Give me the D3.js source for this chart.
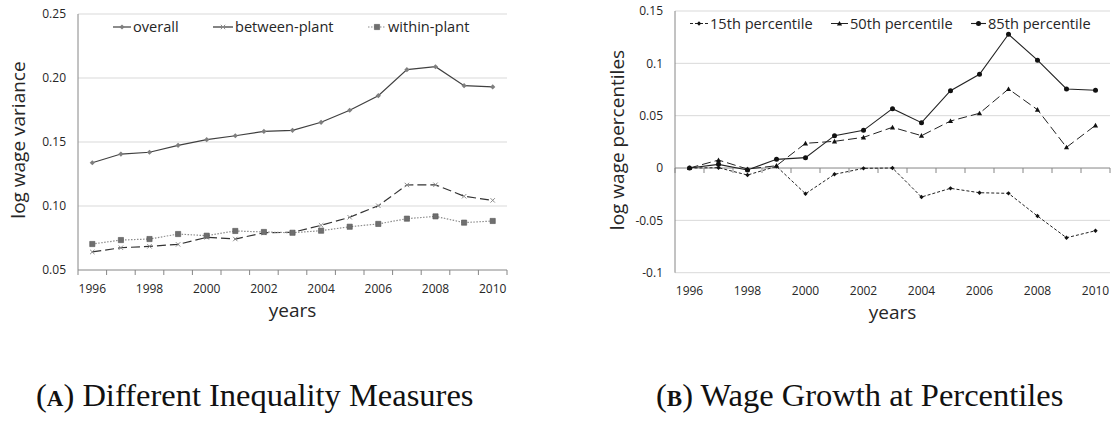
<!DOCTYPE html>
<html>
<head>
<meta charset="utf-8">
<script src="https://cdn.jsdelivr.net/npm/d3@7"></script>
<style>
  body { margin: 0; background: #fff; }
  svg { display: block; }
  .sans { font-family: "Open Sans", "DejaVu Sans", sans-serif; }
  .serif { font-family: "Liberation Serif", "DejaVu Serif", serif; }
</style>
</head>
<body>
<svg id="chart" width="1113" height="426"></svg>
<script>
// Survey years (one category per year)
const years = [1996, 1997, 1998, 1999, 2000, 2001, 2002, 2003, 2004, 2005, 2006, 2007, 2008, 2009, 2010];
const yearLabels = [1996, 1998, 2000, 2002, 2004, 2006, 2008, 2010];

// Panel A: variance of log wages and its decomposition
const overall      = [0.1338, 0.1406, 0.1420, 0.1474, 0.1518, 0.1549, 0.1583, 0.1591, 0.1654, 0.1748, 0.1862, 0.2065, 0.2088, 0.1940, 0.1930];
const betweenPlant = [0.0641, 0.0674, 0.0685, 0.0700, 0.0755, 0.0742, 0.0791, 0.0794, 0.0849, 0.0912, 0.1002, 0.1164, 0.1166, 0.1076, 0.1044];
const withinPlant  = [0.0703, 0.0734, 0.0742, 0.0781, 0.0768, 0.0805, 0.0797, 0.0791, 0.0807, 0.0838, 0.0860, 0.0901, 0.0919, 0.0870, 0.0883];
const ticksA = [0.05, 0.10, 0.15, 0.20, 0.25];

// Panel B: cumulative log wage growth at selected percentiles
const pct15 = [0, 0.0003, -0.0067, 0.0016, -0.0246, -0.0060, -0.0003, 0, -0.0277, -0.0194, -0.0236, -0.0242, -0.0459, -0.0666, -0.0599];
const pct50 = [0, 0.0076, -0.0010, 0.0022, 0.0236, 0.0255, 0.0293, 0.0389, 0.0309, 0.0449, 0.0523, 0.0755, 0.0557, 0.0198, 0.0408];
const pct85 = [0, 0.0035, -0.0019, 0.0083, 0.0099, 0.0309, 0.0360, 0.0567, 0.0433, 0.0739, 0.0896, 0.1278, 0.1030, 0.0755, 0.0743];
const ticksB = [-0.1, -0.05, 0, 0.05, 0.1, 0.15];

const svg = d3.select("#chart");
const GRID = "#d9d9d9", AXIS = "#868686", TXT = "#262626";

// Marker shapes centred on (0,0)
function markerPath(kind, s) {
  switch (kind) {
    case "diamond":  return `M0,${-s}L${s},0L0,${s}L${-s},0Z`;
    case "square":   return `M${-s},${-s}H${s}V${s}H${-s}Z`;
    case "triangle": return `M0,${-s}L${s},${s * 0.8}L${-s},${s * 0.8}Z`;
    case "cross":    return `M${-s},${-s}L${s},${s}M${-s},${s}L${s},${-s}`;
    case "circle":   return d3.symbol(d3.symbolCircle, Math.PI * s * s)();
  }
}

function drawMarker(g, kind, style, x, y) {
  const p = g.append("path")
    .attr("d", markerPath(kind, style.size))
    .attr("transform", `translate(${x},${y})`);
  if (kind === "cross") {
    p.attr("fill", "none").attr("stroke", style.markerColor).attr("stroke-width", 1);
  } else {
    p.attr("fill", style.markerColor).attr("stroke", style.markerStroke || "none").attr("stroke-width", 0.6);
  }
}

function panel(opts) {
  const g = svg.append("g");
  const x = d3.scaleBand().domain(years).range([opts.x0, opts.x1]).padding(0);
  const y = d3.scaleLinear().domain(opts.domain).range([opts.y1, opts.y0]);
  const cx = yr => x(yr) + x.bandwidth() / 2;
  const axisY = y(opts.axisAt);

  // horizontal gridlines
  g.selectAll(".grid").data(opts.ticks.filter(t => Math.abs(t - opts.axisAt) > 1e-9)).join("line")
    .attr("x1", opts.x0).attr("x2", opts.x1)
    .attr("y1", d => y(d)).attr("y2", d => y(d))
    .attr("stroke", GRID).attr("stroke-width", 1);

  // value axis
  g.append("line").attr("x1", opts.x0).attr("x2", opts.x0)
    .attr("y1", y(opts.domain[1])).attr("y2", y(opts.domain[0]))
    .attr("stroke", AXIS).attr("stroke-width", 1);
  g.selectAll(".ylab").data(opts.ticks).join("text")
    .attr("class", "sans")
    .attr("x", opts.x0 - 12).attr("y", d => y(d))
    .attr("dy", "0.35em").attr("text-anchor", "end")
    .attr("font-size", 12).attr("fill", TXT)
    .text(opts.fmt);

  // category axis with tick marks between years
  g.append("line").attr("x1", opts.x0).attr("x2", opts.x1)
    .attr("y1", axisY).attr("y2", axisY)
    .attr("stroke", AXIS).attr("stroke-width", 1);
  const edges = years.map(d => x(d)).concat([opts.x1]);
  g.selectAll(".xtick").data(edges).join("line")
    .attr("x1", d => d).attr("x2", d => d)
    .attr("y1", axisY).attr("y2", axisY + 5)
    .attr("stroke", AXIS).attr("stroke-width", 1);
  g.selectAll(".xlab").data(yearLabels).join("text")
    .attr("class", "sans")
    .attr("x", d => cx(d)).attr("y", opts.xLabelY)
    .attr("text-anchor", "middle").attr("font-size", 12).attr("fill", TXT)
    .text(d => d);

  // axis titles
  g.append("text").attr("class", "sans")
    .attr("x", (opts.x0 + opts.x1) / 2).attr("y", opts.xTitleY)
    .attr("text-anchor", "middle").attr("font-size", 19).attr("fill", TXT)
    .text("years");
  g.append("text").attr("class", "sans")
    .attr("transform", `translate(${opts.yTitleX},${opts.yTitleMid}) rotate(-90)`)
    .attr("text-anchor", "middle").attr("font-size", 19).attr("fill", TXT)
    .text(opts.yTitle);

  // series
  const line = d3.line().x((d, i) => cx(years[i])).y(d => y(d));
  opts.series.forEach(s => {
    g.append("path").datum(s.values)
      .attr("d", line).attr("fill", "none")
      .attr("stroke", s.lineColor).attr("stroke-width", s.width)
      .attr("stroke-dasharray", s.dash);
    s.values.forEach((v, i) => drawMarker(g, s.marker, s, cx(years[i]), y(v)));
  });

  // legend: short line sample with the series marker in its middle
  opts.series.forEach(s => {
    const L = s.legend;
    g.append("line").attr("x1", L.x).attr("x2", L.x + L.len)
      .attr("y1", opts.legendY).attr("y2", opts.legendY)
      .attr("stroke", s.lineColor).attr("stroke-width", s.width)
      .attr("stroke-dasharray", s.legendDash || null);
    drawMarker(g, s.marker, s, L.x + L.len / 2, opts.legendY);
    g.append("text").attr("class", "sans")
      .attr("x", L.x + L.len + 2).attr("y", opts.legendY).attr("dy", "0.35em")
      .attr("font-size", 14.6).attr("fill", TXT)
      .text(s.name);
  });
}

panel({
  x0: 78, x1: 507, y0: 14, y1: 270,
  domain: [0.05, 0.25], axisAt: 0.05, ticks: ticksA,
  fmt: d => d3.format(".2f")(d),
  xLabelY: 293, xTitleY: 317,
  yTitle: "log wage variance", yTitleX: 25, yTitleMid: 140,
  legendY: 27,
  series: [
    { name: "overall", values: overall, marker: "diamond", size: 2.6, markerColor: "#7f7f7f",
      lineColor: "#404040", width: 1.2, dash: "none", legend: { x: 113, len: 18 } },
    { name: "between-plant", values: betweenPlant, marker: "cross", size: 2.2, markerColor: "#8a8a8a",
      lineColor: "#333333", width: 1.2, dash: "9,4", legend: { x: 213, len: 20 } },
    { name: "within-plant", values: withinPlant, marker: "square", size: 2.6, markerColor: "#6f6f6f", markerStroke: "#555",
      lineColor: "#8c8c8c", width: 1.2, dash: "1.5,1.5", legendDash: "1.5,1.5", legend: { x: 368, len: 18 } }
  ]
});

panel({
  x0: 675, x1: 1110, y0: 11, y1: 272.7,
  domain: [-0.1, 0.15], axisAt: 0, ticks: ticksB,
  fmt: d => String(+d.toFixed(2)),
  xLabelY: 295, xTitleY: 319,
  yTitle: "log wage percentiles", yTitleX: 624, yTitleMid: 140,
  legendY: 23.5,
  series: [
    { name: "15th percentile", values: pct15, marker: "diamond", size: 2.2, markerColor: "#111",
      lineColor: "#222", width: 1, dash: "3,2", legendDash: "3,2", legend: { x: 690, len: 18 } },
    { name: "50th percentile", values: pct50, marker: "triangle", size: 2.6, markerColor: "#111",
      lineColor: "#222", width: 1, dash: "9,4", legend: { x: 831, len: 17 } },
    { name: "85th percentile", values: pct85, marker: "circle", size: 2.5, markerColor: "#111",
      lineColor: "#222", width: 1.1, dash: "none", legend: { x: 971, len: 15 } }
  ]
});

// sub-figure captions
function caption(x, letter, rest) {
  const t = svg.append("text").attr("class", "serif")
    .attr("x", x).attr("y", 406).attr("font-size", 32.5).attr("fill", "#111");
  t.append("tspan").text("(");
  t.append("tspan").attr("font-weight", "bold").attr("font-size", 23).text(letter);
  t.append("tspan").text(") " + rest);
}
caption(36, "A", "Different Inequality Measures");
caption(656, "B", "Wage Growth at Percentiles");
</script>
</body>
</html>
